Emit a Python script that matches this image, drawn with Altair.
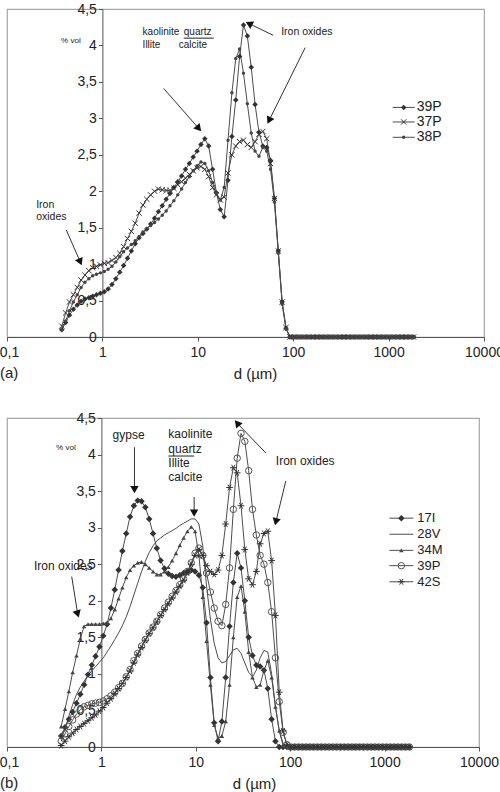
import altair as alt
import pandas as pd

# ---------------- data ----------------
D_HEAD = [0.375, 0.412, 0.452, 0.496, 0.545, 0.598, 0.656, 0.721, 0.791, 0.868,
          0.953, 1.047, 1.149, 1.261, 1.385, 1.520, 1.669, 1.832, 2.011, 2.208,
          2.424, 2.661, 2.921, 3.207, 3.521, 3.865, 4.243, 4.659, 5.114, 5.615,
          6.164, 6.767, 7.429, 8.155, 8.953, 9.829, 10.79, 11.85, 13.00, 14.28,
          15.67, 17.21, 18.89, 20.74, 22.77, 24.99, 27.44, 30.12, 33.07, 36.31,
          39.86, 43.76, 48.04, 52.74, 57.89, 63.56, 69.78, 76.60, 84.09, 92.32]
D_TAIL = [101.4, 111.3, 122.2, 134.1, 147.2, 161.6, 177.4, 194.8, 213.8, 234.8,
          257.7, 282.9, 310.6, 341.0, 374.4, 411.0, 451.2, 495.3, 543.8, 597.0,
          655.4, 719.5, 789.9, 867.2, 952.0, 1045, 1147, 1260, 1383, 1518,
          1667, 1830]
ZERO_TAIL = [0.0, 0.0, 0.0, 0.0, 0.0, 0.0, 0.0, 0.0, 0.0, 0.0,
             0.0, 0.0, 0.0, 0.0, 0.0, 0.0, 0.0, 0.0, 0.0, 0.0,
             0.0, 0.0, 0.0, 0.0, 0.0, 0.0, 0.0, 0.0, 0.0, 0.0,
             0.0, 0.0]

# panel (a)
A_39P = [0.10, 0.20, 0.30, 0.38, 0.44, 0.49, 0.52, 0.54, 0.56, 0.58,
         0.60, 0.62, 0.66, 0.72, 0.80, 0.89, 0.98, 1.08, 1.18, 1.28,
         1.36, 1.42, 1.48, 1.55, 1.63, 1.72, 1.80, 1.89, 1.97, 2.05,
         2.13, 2.21, 2.30, 2.38, 2.47, 2.55, 2.64, 2.72, 2.62, 2.30,
         1.98, 1.75, 1.65, 2.15, 2.75, 3.25, 3.85, 4.28, 4.13, 3.70,
         3.19, 2.81, 2.62, 2.60, 2.42, 1.90, 1.18, 0.48, 0.12, 0.00]
A_37P = [0.15, 0.33, 0.48, 0.58, 0.68, 0.78, 0.85, 0.91, 0.95, 0.97,
         0.99, 1.01, 1.02, 1.05, 1.09, 1.15, 1.24, 1.35, 1.45, 1.56,
         1.70, 1.81, 1.89, 1.95, 2.00, 2.03, 2.02, 2.01, 2.01, 2.04,
         2.09, 2.13, 2.18, 2.23, 2.28, 2.32, 2.34, 2.30, 2.20, 2.05,
         1.95, 1.88, 1.92, 2.25, 2.50, 2.62, 2.68, 2.70, 2.64, 2.60,
         2.68, 2.78, 2.82, 2.72, 2.38, 1.90, 1.18, 0.48, 0.13, 0.00]
A_38P = [0.10, 0.22, 0.36, 0.48, 0.58, 0.68, 0.75, 0.80, 0.84, 0.86,
         0.88, 0.90, 0.93, 0.97, 1.03, 1.10, 1.17, 1.22, 1.27, 1.32,
         1.38, 1.44, 1.49, 1.53, 1.57, 1.62, 1.67, 1.73, 1.80, 1.87,
         1.95, 2.03, 2.12, 2.20, 2.28, 2.35, 2.40, 2.38, 2.28, 2.12,
         1.97, 1.88, 2.05, 2.70, 3.35, 3.82, 3.95, 3.62, 3.20, 2.80,
         2.55, 2.48, 2.60, 2.55, 2.30, 1.85, 1.15, 0.45, 0.11, 0.00]

# panel (b)
B_17I = [0.15, 0.27, 0.38, 0.48, 0.60, 0.72, 0.85, 0.99, 1.12, 1.24,
         1.37, 1.52, 1.68, 1.90, 2.15, 2.42, 2.68, 2.92, 3.15, 3.30,
         3.37, 3.36, 3.28, 3.12, 2.92, 2.72, 2.55, 2.44, 2.37, 2.34,
         2.33, 2.35, 2.38, 2.40, 2.42, 2.40, 2.35, 2.18, 1.70, 0.95,
         0.33, 0.08, 0.35, 0.95, 1.65, 2.25, 2.65, 2.45, 2.00, 1.50,
         1.25, 1.12, 1.10, 1.05, 0.80, 0.38, 0.08, 0.00, 0.00, 0.00]
B_28V = [0.10, 0.25, 0.42, 0.58, 0.72, 0.82, 0.90, 0.98, 1.04, 1.10,
         1.16, 1.22, 1.30, 1.38, 1.47, 1.56, 1.66, 1.78, 1.92, 2.08,
         2.24, 2.40, 2.54, 2.66, 2.75, 2.82, 2.86, 2.90, 2.93, 2.96,
         2.99, 3.03, 3.06, 3.09, 3.12, 3.12, 3.05, 2.75, 2.20, 1.75,
         1.42, 1.22, 1.15, 1.17, 1.25, 1.33, 1.35, 1.28, 1.15, 1.02,
         0.96, 1.05, 1.22, 1.32, 1.30, 1.00, 0.55, 0.22, 0.05, 0.00]
B_34M = [0.28, 0.52, 0.76, 1.02, 1.25, 1.48, 1.65, 1.68, 1.68, 1.68,
         1.68, 1.69, 1.70, 1.76, 1.88, 2.03, 2.18, 2.32, 2.42, 2.48,
         2.52, 2.53, 2.50, 2.45, 2.40, 2.36, 2.36, 2.40, 2.46, 2.55,
         2.65, 2.76, 2.86, 2.95, 3.01, 2.95, 2.62, 2.05, 1.45, 0.85,
         0.30, 0.12, 0.15, 0.35, 0.85, 1.50, 2.05, 2.20, 1.85, 1.30,
         0.95, 0.82, 0.85, 1.05, 1.18, 0.95, 0.55, 0.22, 0.02, 0.00]
B_39P = [0.08, 0.18, 0.28, 0.37, 0.45, 0.51, 0.55, 0.57, 0.59, 0.60,
         0.61, 0.63, 0.66, 0.70, 0.75, 0.81, 0.87, 0.96, 1.06, 1.18,
         1.28, 1.38, 1.47, 1.56, 1.64, 1.72, 1.81, 1.90, 1.98, 2.06,
         2.14, 2.22, 2.30, 2.40, 2.52, 2.65, 2.72, 2.62, 2.38, 2.12,
         1.90, 1.72, 1.66, 1.95, 2.45, 3.25, 3.95, 4.29, 4.18, 3.78,
         3.25, 2.90, 2.62, 2.50, 2.25, 1.85, 1.22, 0.62, 0.20, 0.03]
B_42S = [0.02, 0.08, 0.14, 0.19, 0.24, 0.28, 0.32, 0.36, 0.40, 0.44,
         0.49, 0.54, 0.60, 0.66, 0.73, 0.80, 0.87, 0.95, 1.04, 1.15,
         1.26, 1.36, 1.46, 1.55, 1.63, 1.71, 1.80, 1.88, 1.96, 2.04,
         2.12, 2.20, 2.28, 2.38, 2.50, 2.62, 2.70, 2.62, 2.48, 2.40,
         2.36, 2.42, 2.62, 3.05, 3.55, 3.82, 3.75, 3.30, 2.70, 2.30,
         2.22, 2.40, 2.78, 2.92, 2.95, 2.55, 1.80, 0.75, 0.22, 0.03]

XTICKS = [0.1, 1, 10, 100, 1000, 10000]
YTICKS = [0, 0.5, 1, 1.5, 2, 2.5, 3, 3.5, 4, 4.5]

# annotations (data units: d in µm, value in % vol)
A_TEXT = [("kaolinite", 2.64, 4.19, 10), ("quartz", 7.13, 4.19, 10),
          ("Illite", 2.64, 4.01, 10), ("calcite", 6.3, 4.01, 10),
          ("Iron oxides", 74.8, 4.18, 10.5),
          ("Iron", 0.202, 1.81, 10.5), ("oxides", 0.202, 1.64, 10.5)]
A_UNDER = [(7.13, 14.7, 4.10)]
A_ARROWS = [(4.39, 3.41, 10.25, 2.86, 139), (61.5, 4.14, 34.4, 4.30, 297),
            (133.6, 3.97, 55.8, 2.97, 206), (0.418, 1.47, 0.586, 1.03, 156)]
A_LEG_X = (1102, 1879, 1439, 1972)
A_LEG_Y = [3.15, 2.95, 2.74]

B_TEXT = [("kaolinite", 5.12, 4.28, 12), ("quartz", 5.12, 4.08, 12),
          ("Illite", 5.12, 3.89, 12), ("calcite", 5.12, 3.69, 12),
          ("Iron oxides", 70.5, 3.91, 12), ("Iron oxides", 0.193, 2.48, 12)]
B_CTEXT = [("gypse", 1.94, 4.27, 12)]
B_UNDER = [(5.12, 9.6, 3.98)]
B_ARROWS = [(2.24, 4.10, 2.24, 3.52, 180), (9.6, 3.42, 9.6, 3.20, 180),
            (55.3, 4.02, 27.4, 4.43, 321), (89.9, 3.64, 70.5, 3.08, 194),
            (0.485, 2.33, 0.561, 1.82, 163)]
B_LEG_X = (1125, 2013, 1504, 2218)
B_LEG_Y = [3.13, 2.91, 2.69, 2.48, 2.26]

X_PATH = "M-1,-1L1,1M-1,1L1,-1"
STAR_PATH = "M-1,0L1,0M-0.5,-0.87L0.5,0.87M-0.5,0.87L0.5,-0.87"
DARK = "#333333"
LINE = "#4d4d4d"

A_SERIES = [("39P", A_39P, dict(shape="diamond", filled=True, size=30, color=DARK)),
            ("37P", A_37P, dict(shape=X_PATH, filled=False, size=28, color=DARK, strokeWidth=1)),
            ("38P", A_38P, dict(shape="circle", filled=True, size=12, color="#444444"))]
B_SERIES = [("17I", B_17I, dict(shape="diamond", filled=True, size=42, color=DARK)),
            ("28V", B_28V, None),
            ("34M", B_34M, dict(shape="triangle-up", filled=True, size=20, color="#444444")),
            ("39P", B_39P, dict(shape="circle", filled=False, size=42, color="#555555", strokeWidth=1)),
            ("42S", B_42S, dict(shape=STAR_PATH, filled=False, size=45, color=DARK, strokeWidth=1))]

XS = alt.Scale(type="log", domain=[0.1, 10000])
YS = alt.Scale(domain=[0, 4.5])


def panel(series, width, height, texts, ctexts, unders, arrows, leg_x, leg_y,
          label, title_x, vol_x, vol_y, leg_size):
    sizes = D_HEAD + D_TAIL
    rows = []
    for name, vals, _ in series:
        for d, v in zip(sizes, vals + ZERO_TAIL):
            rows.append({"d": d, "v": v, "s": name})
    df = pd.DataFrame(rows)

    xaxis = alt.Axis(values=XTICKS, grid=False, title="d (µm)",
                     labelExpr="datum.value < 1 ? '0,1' : format(datum.value, 'd')",
                     labelOffset={"condition": {"test": "datum.value < 1", "value": 2},
                                  "value": 0},
                     labelFontSize=14, labelPadding=4, tickSize=4,
                     titleFontSize=15, titleFontWeight="normal",
                     titleX=title_x, titleY=36, titleBaseline="middle",
                     titleAlign="center", labelFlush=False, labelOverlap=False)
    yaxis = alt.Axis(values=YTICKS, grid=False, title="% vol",
                     labelExpr="replace(format(datum.value, '.1~f'), '.', ',')",
                     labelFontSize=14, tickSize=4, labelPadding=2,
                     offset=-width / 5.0, titleAngle=0, titleFontSize=8,
                     titleFontWeight="normal", titleX=vol_x, titleY=vol_y,
                     titleAlign="center", titleBaseline="middle",
                     labelOverlap=False)

    def X(f):
        return alt.X(f, type="quantitative", scale=XS, axis=xaxis)

    def Y(f):
        return alt.Y(f, type="quantitative", scale=YS, axis=yaxis)

    layers = [alt.Chart(df).mark_line(color=LINE, strokeWidth=1).encode(
        x=X("d"), y=Y("v"), detail="s:N")]

    for name, _, style in series:
        if style is None:
            continue
        layers.append(alt.Chart(df[df.s == name]).mark_point(opacity=1, **style).encode(
            x=X("d"), y=Y("v")))

    # legend
    names = [s[0] for s in series]
    ldf = pd.DataFrame({"s": names, "y": leg_y,
                        "xl": [leg_x[0]] * len(names), "xr": [leg_x[1]] * len(names),
                        "xm": [leg_x[2]] * len(names), "xt": [leg_x[3]] * len(names)})
    layers.append(alt.Chart(ldf).mark_rule(color=LINE, strokeWidth=1).encode(
        x=X("xl"), x2="xr:Q", y=Y("y")))
    for name, _, style in series:
        if style is None:
            continue
        layers.append(alt.Chart(ldf[ldf.s == name]).mark_point(opacity=1, **style).encode(
            x=X("xm"), y=Y("y")))
    layers.append(alt.Chart(ldf).mark_text(align="left", baseline="middle",
                                           fontSize=leg_size, color="#222").encode(
        x=X("xt"), y=Y("y"), text="s:N"))

    # annotation texts
    for t, xv, yv, fs in texts:
        tdf = pd.DataFrame({"t": [t], "x": [xv], "y": [yv]})
        layers.append(alt.Chart(tdf).mark_text(align="left", baseline="middle",
                                               fontSize=fs, color="#222").encode(
            x=X("x"), y=Y("y"), text="t:N"))
    for t, xv, yv, fs in ctexts:
        tdf = pd.DataFrame({"t": [t], "x": [xv], "y": [yv]})
        layers.append(alt.Chart(tdf).mark_text(align="center", baseline="middle",
                                               fontSize=fs, color="#222").encode(
            x=X("x"), y=Y("y"), text="t:N"))
    udf = pd.DataFrame(unders, columns=["x", "x2", "y"])
    layers.append(alt.Chart(udf).mark_rule(color="#222", strokeWidth=1).encode(
        x=X("x"), x2="x2:Q", y=Y("y")))

    # arrows
    adf = pd.DataFrame(arrows, columns=["x", "y", "x2", "y2", "ang"])
    layers.append(alt.Chart(adf).mark_rule(color="#333", strokeWidth=1).encode(
        x=X("x"), x2="x2:Q", y=Y("y"), y2="y2:Q"))
    layers.append(alt.Chart(adf).mark_point(shape="triangle-up", filled=True,
                                            size=70, color="#111", opacity=1).encode(
        x=X("x2"), y=Y("y2"), angle=alt.Angle("ang:Q", scale=None)))

    # panel letter
    pdf = pd.DataFrame({"t": [label]})
    layers.append(alt.Chart(pdf).mark_text(align="left", baseline="middle",
                                           fontSize=15, color="#222").encode(
        x=alt.value(-7), y=alt.value(height + 36), text="t:N"))

    return alt.layer(*layers).properties(width=width, height=height)


pa = panel(A_SERIES, 477, 328, A_TEXT, [], A_UNDER, A_ARROWS, A_LEG_X, A_LEG_Y,
           "(a)", 248, -32, 31, 14)
pb = panel(B_SERIES, 472, 329, B_TEXT, B_CTEXT, B_UNDER, B_ARROWS, B_LEG_X, B_LEG_Y,
           "(b)", 247, -36, 29, 13)

chart = alt.vconcat(pa, pb, spacing=81, bounds="flush").properties(
    autosize=alt.AutoSizeParams(type="none"),
    padding={"left": 7, "top": 9, "right": 493, "bottom": 783}
).configure(font="Liberation Sans").configure_view(
    stroke="#a6a6a6", strokeWidth=1.2
).configure_axis(labelColor="#222", titleColor="#222",
                 domainColor="#555", tickColor="#555")

chart.save("out.html", embed_options={"renderer": "svg", "actions": False})
